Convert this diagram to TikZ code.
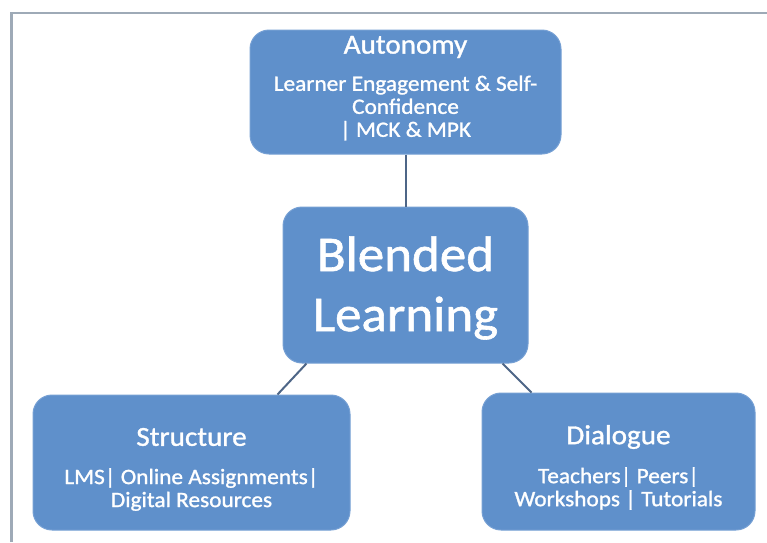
\documentclass[tikz,border=0pt]{standalone}
\usepackage{fontspec}
\setmainfont{Carlito}[FakeStretch=1.06,FakeBold=1.2]
\definecolor{boxfill}{RGB}{95,144,203}
\definecolor{boxedge}{RGB}{118,160,212}
\definecolor{framec}{RGB}{158,170,183}
\definecolor{linkc}{RGB}{78,102,135}
\begin{document}
\begin{tikzpicture}[x=1pt,y=-1pt,
  box/.style={draw=boxedge, fill=boxfill, line width=1pt, rounded corners=19pt, inner sep=0pt},
  txt/.style={text=white, align=center, inner sep=0pt},
  ttl/.style={txt, font=\fontsize{27.5}{28}\selectfont},
  body/.style={txt, font=\fontsize{22}{23}\selectfont},
  big/.style={txt, font=\fontsize{50}{60}\selectfont},
  link/.style={draw=linkc, line width=2pt}]
\useasboundingbox (0,0) rectangle (767,542);
\fill[white] (0,0) rectangle (767,542);
\draw[framec, line width=2.2pt] (11.5,542) -- (11.5,13) -- (767,13);

\node[box, minimum width=311pt, minimum height=124pt] (auto) at (405.5,92) {};
\node[box, minimum width=245pt, minimum height=156pt] (bl) at (405.5,285) {};
\node[box, minimum width=317pt, minimum height=135pt] (st) at (191.5,462.5) {};
\node[box, minimum width=273pt, minimum height=137pt] (dl) at (618.5,461.5) {};

\node[ttl] (autot) at (405.5,47) {Autonomy};
\node[body] (autob) at (405.5,108) {Learner Engagement \& Self-\\ Confidence\\ | MCK \& MPK};
\node[big] (blt) at (405.5,288) {Blended\\ Learning};
\node[ttl] (stt) at (191.5,437) {Structure};
\node[body] (stb) at (191.5,489.5) {LMS| Online Assignments|\\ Digital Resources};
\node[ttl] (dlt) at (618.5,437) {Dialogue};
\node[body] (dlb) at (618.5,488.5) {Teachers| Peers|\\ Workshops | Tutorials};

\draw[link] (auto.south) -- (bl.north);
\draw[link] ([xshift=24pt]bl.south west) -- ([xshift=-73pt]st.north east);
\draw[link] ([xshift=-26pt]bl.south east) -- ([xshift=50pt]dl.north west);
\end{tikzpicture}
\end{document}
